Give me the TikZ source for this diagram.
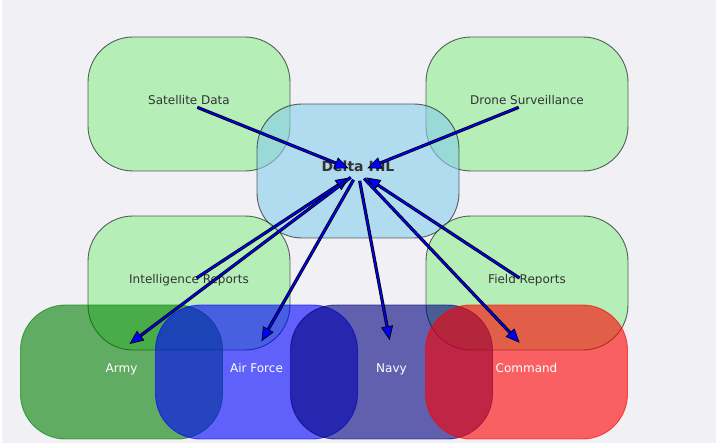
\documentclass[tikz,border=0pt]{standalone}
\usepackage{fontspec}
\setmainfont{DejaVu Sans}
\usetikzlibrary{arrows.meta}
\definecolor{bgc}{RGB}{240,240,245}
\definecolor{lgreen}{RGB}{144,238,144}
\definecolor{skyb}{RGB}{135,206,235}
\definecolor{dgreen}{RGB}{0,128,0}
\definecolor{navyc}{RGB}{0,0,128}
\definecolor{txtc}{RGB}{51,51,51}
\begin{document}
\begin{tikzpicture}[x=1pt,y=-1pt,
    box/.style={rectangle,rounded corners=45pt,minimum width=202pt,minimum height=134pt,
        inner sep=0pt,outer sep=0pt,line width=0.9pt,fill opacity=0.6,draw opacity=0.6,
        text opacity=1,text height=10pt,text depth=9pt,font=\fontsize{12}{14}\selectfont},
    info/.style={box,fill=lgreen,draw=black,text=txtc},
    unit/.style={box,fill=#1,draw=#1,text=white},
    flow/.style={blue,line width=1.5pt,shorten <=9pt,shorten >=10pt,
        -{Triangle[length=14pt,width=12pt,color=black,fill=blue,line width=0.7pt]},
        preaction={draw=black,line width=3.2pt,-,shorten <=9pt,shorten >=20pt}}]
    \useasboundingbox(0,0)rectangle(716,443);
    \fill[white](0,0)rectangle(716,443);
    \fill[bgc](2,0)rectangle(716,443);

    \node[info](sat)at(189,104){Satellite Data};
    \node[info](drone)at(527,104){Drone Surveillance};
    \node[box,fill=skyb,draw=black,text=txtc,font=\fontsize{14}{16}\selectfont\bfseries](hil)at(358,171){Delta HIL};
    \node[info](intel)at(189,283){Intelligence Reports};
    \node[info](field)at(527,283){Field Reports};
    \node[unit=dgreen](army)at(121.5,372){Army};
    \node[unit=blue](air)at(256.5,372){Air Force};
    \node[unit=navyc](navy)at(391.5,372){Navy};
    \node[unit=red](cmd)at(526.5,372){Command};

    \coordinate(hilp)at([yshift=-1pt]hil.center);
    \coordinate(armyp)at([yshift=22pt]army.center);
    \coordinate(airp)at([yshift=22pt]air.center);
    \coordinate(navyp)at([yshift=22pt]navy.center);
    \coordinate(cmdp)at([yshift=22pt]cmd.center);

    \draw[flow](sat.center)--(hilp);
    \draw[flow](drone.center)--(hilp);
    \draw[flow](intel.center)--(hilp);
    \draw[flow](field.center)--(hilp);
    \draw[flow](hilp)--(armyp);
    \draw[flow](hilp)--(airp);
    \draw[flow](hilp)--(navyp);
    \draw[flow](hilp)--(cmdp);

\end{tikzpicture}
\end{document}
